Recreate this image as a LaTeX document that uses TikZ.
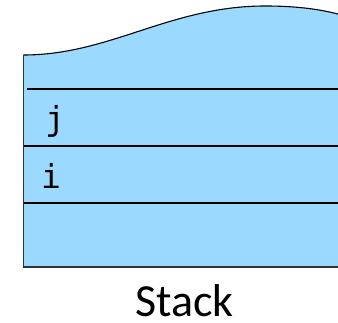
\documentclass[tikz,border=0pt]{standalone}
\usepackage{fontspec}
\setmainfont{Carlito}
\newfontfamily\codefont{DejaVu Sans Mono}
\usepackage{tikz}
\definecolor{stackblue}{RGB}{155,217,255}
\definecolor{edgegray}{RGB}{50,50,50}

\begin{document}
\begin{tikzpicture}[x=1pt, y=-1pt]
    \useasboundingbox (0,0) rectangle (338,323);
    \clip (0,0) rectangle (338,323);

    % 1. Khối ngăn xếp màu xanh nhạt, mép trên lượn sóng
    \fill[stackblue] (23.5,267) -- (23.5,55)
        .. controls (110,55) and (170,6) .. (265,6)
        .. controls (300,6) and (325,10) .. (345,16)
        -- (345,267) -- cycle;
    \draw[black, line width=1.1pt] (23.5,55)
        .. controls (110,55) and (170,6) .. (265,6)
        .. controls (300,6) and (325,10) .. (345,16);
    \draw[edgegray, line width=1.1pt] (345,267) -- (23.5,267) -- (23.5,55);

    % 2. Các vạch ngăn giữa các ô
    \draw[black, line width=1.2pt] (27,89) -- (345,89);
    \draw[black, line width=1.2pt] (23.5,146) -- (345,146);
    \draw[black, line width=1.2pt] (23.5,203) -- (345,203);

    % 3. Tên biến trong các ô và nhãn bên dưới
    \node[anchor=base west, inner sep=0pt, font=\codefont\fontsize{33}{33}\selectfont] (varj) at (45,131) {j};
    \node[anchor=base west, inner sep=0pt, font=\codefont\fontsize{33}{33}\selectfont] (vari) at (41,189) {i};
    \node[anchor=base, inner sep=0pt, font=\fontsize{46}{46}\selectfont] (lbl) at (184.5,317) {Stack};

\end{tikzpicture}
\end{document}
